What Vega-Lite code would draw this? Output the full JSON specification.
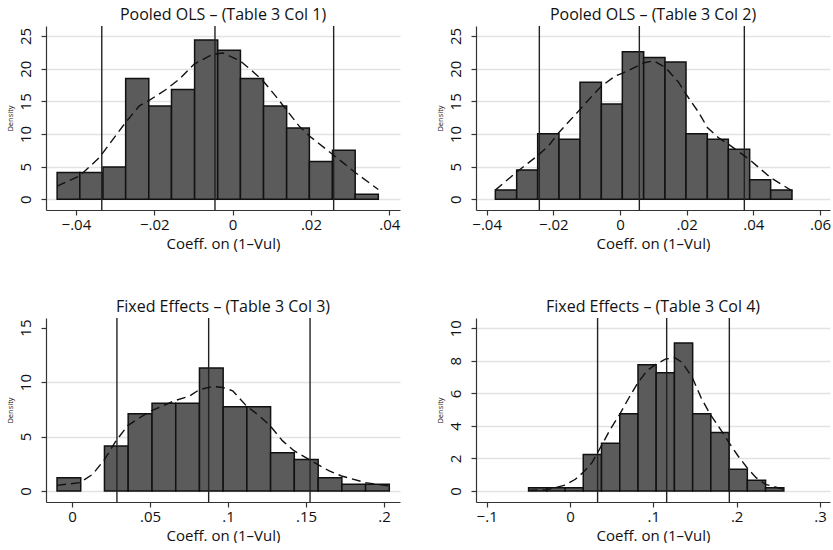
{
  "$schema": "https://vega.github.io/schema/vega-lite/v6.json",
  "background": "white",
  "padding": {"left": 5, "top": 7, "right": 0, "bottom": 0},
  "config": {
    "font": "Open Sans",
    "view": {"stroke": null},
    "axis": {
      "domainColor": "#333333",
      "tickColor": "#333333",
      "domainWidth": 1.2,
      "tickWidth": 1.2,
      "tickSize": 5,
      "labelColor": "#111111",
      "labelFontSize": 15,
      "titleFontSize": 15,
      "titleFontWeight": "normal",
      "titleColor": "#111111",
      "gridColor": "#e3e3e3",
      "gridWidth": 1.4,
      "labelOverlap": false,
      "tickCount": 20
    },
    "title": {"fontSize": 16, "fontWeight": "normal", "color": "#111111", "offset": 2}
  },
  "datasets": {
    "b1": [
      {"lo": -0.0448, "hi": -0.0390, "density": 4.1},
      {"lo": -0.0390, "hi": -0.0331, "density": 4.1},
      {"lo": -0.0331, "hi": -0.0273, "density": 4.95},
      {"lo": -0.0273, "hi": -0.0214, "density": 18.5},
      {"lo": -0.0214, "hi": -0.0156, "density": 14.3},
      {"lo": -0.0156, "hi": -0.0097, "density": 16.8},
      {"lo": -0.0097, "hi": -0.0038, "density": 24.4},
      {"lo": -0.0038, "hi": 0.0020, "density": 22.8},
      {"lo": 0.0020, "hi": 0.0079, "density": 18.5},
      {"lo": 0.0079, "hi": 0.0138, "density": 14.3},
      {"lo": 0.0138, "hi": 0.0196, "density": 10.9},
      {"lo": 0.0196, "hi": 0.0255, "density": 5.8},
      {"lo": 0.0255, "hi": 0.0313, "density": 7.5},
      {"lo": 0.0313, "hi": 0.0372, "density": 0.77}
    ],
    "d1": [
      {"x": -0.0448, "y": 2.0}, {"x": -0.0390, "y": 3.6}, {"x": -0.0340, "y": 6.4},
      {"x": -0.0274, "y": 11.7}, {"x": -0.0238, "y": 14.3}, {"x": -0.0214, "y": 15.1},
      {"x": -0.0170, "y": 16.8}, {"x": -0.0136, "y": 18.4}, {"x": -0.0098, "y": 20.7},
      {"x": -0.0051, "y": 22.2}, {"x": -0.0025, "y": 22.4}, {"x": 0.0019, "y": 21.2},
      {"x": 0.0051, "y": 19.6}, {"x": 0.0078, "y": 18.1}, {"x": 0.0110, "y": 15.8},
      {"x": 0.0136, "y": 13.8}, {"x": 0.0170, "y": 11.2}, {"x": 0.0196, "y": 9.7},
      {"x": 0.0238, "y": 7.7}, {"x": 0.0255, "y": 6.9}, {"x": 0.0313, "y": 4.1},
      {"x": 0.0372, "y": 1.5}
    ],
    "r1": [{"x": -0.0334}, {"x": -0.0045}, {"x": 0.0258}],
    "b2": [
      {"lo": -0.0374, "hi": -0.0310, "density": 1.43},
      {"lo": -0.0310, "hi": -0.0247, "density": 4.5},
      {"lo": -0.0247, "hi": -0.0183, "density": 10.05},
      {"lo": -0.0183, "hi": -0.0120, "density": 9.2},
      {"lo": -0.0120, "hi": -0.0056, "density": 17.9},
      {"lo": -0.0056, "hi": 0.0007, "density": 14.6},
      {"lo": 0.0007, "hi": 0.0071, "density": 22.6},
      {"lo": 0.0071, "hi": 0.0135, "density": 21.7},
      {"lo": 0.0135, "hi": 0.0198, "density": 21.0},
      {"lo": 0.0198, "hi": 0.0262, "density": 10.05},
      {"lo": 0.0262, "hi": 0.0325, "density": 9.2},
      {"lo": 0.0325, "hi": 0.0389, "density": 7.65},
      {"lo": 0.0389, "hi": 0.0452, "density": 3.0},
      {"lo": 0.0452, "hi": 0.0516, "density": 1.43}
    ],
    "d2": [
      {"x": -0.0374, "y": 1.4}, {"x": -0.0312, "y": 4.1}, {"x": -0.0249, "y": 6.6},
      {"x": -0.0214, "y": 8.2}, {"x": -0.0184, "y": 10.2}, {"x": -0.0119, "y": 13.8},
      {"x": -0.0084, "y": 15.8}, {"x": -0.0056, "y": 17.3}, {"x": -0.0014, "y": 18.9},
      {"x": 0.0008, "y": 19.3}, {"x": 0.0072, "y": 20.9}, {"x": 0.0101, "y": 21.2},
      {"x": 0.0136, "y": 20.2}, {"x": 0.0176, "y": 17.9}, {"x": 0.0198, "y": 16.1},
      {"x": 0.0236, "y": 13.3}, {"x": 0.0262, "y": 11.0}, {"x": 0.0296, "y": 9.4},
      {"x": 0.0326, "y": 8.4}, {"x": 0.0388, "y": 6.1}, {"x": 0.0452, "y": 3.3},
      {"x": 0.0516, "y": 1.3}
    ],
    "r2": [{"x": -0.0242}, {"x": 0.0058}, {"x": 0.0373}],
    "b3": [
      {"lo": -0.0096, "hi": 0.0056, "density": 1.22},
      {"lo": 0.0208, "hi": 0.0360, "density": 4.13},
      {"lo": 0.0360, "hi": 0.0513, "density": 7.1},
      {"lo": 0.0513, "hi": 0.0665, "density": 8.05},
      {"lo": 0.0665, "hi": 0.0817, "density": 8.05},
      {"lo": 0.0817, "hi": 0.0969, "density": 11.3},
      {"lo": 0.0969, "hi": 0.1121, "density": 7.74},
      {"lo": 0.1121, "hi": 0.1273, "density": 7.74},
      {"lo": 0.1273, "hi": 0.1425, "density": 3.52},
      {"lo": 0.1425, "hi": 0.1578, "density": 2.9},
      {"lo": 0.1578, "hi": 0.1730, "density": 1.22},
      {"lo": 0.1730, "hi": 0.1882, "density": 0.61},
      {"lo": 0.1882, "hi": 0.2034, "density": 0.61}
    ],
    "d3": [
      {"x": -0.0096, "y": 0.52}, {"x": 0.0051, "y": 0.77}, {"x": 0.0132, "y": 1.53},
      {"x": 0.0209, "y": 2.9}, {"x": 0.0282, "y": 4.6}, {"x": 0.0357, "y": 6.0},
      {"x": 0.0431, "y": 6.7}, {"x": 0.0506, "y": 7.35}, {"x": 0.0660, "y": 8.3},
      {"x": 0.0752, "y": 8.7}, {"x": 0.0816, "y": 9.3}, {"x": 0.0902, "y": 9.6},
      {"x": 0.0966, "y": 9.5}, {"x": 0.1030, "y": 9.2}, {"x": 0.1119, "y": 7.8},
      {"x": 0.1201, "y": 6.9}, {"x": 0.1269, "y": 6.0}, {"x": 0.1350, "y": 4.6},
      {"x": 0.1423, "y": 3.7}, {"x": 0.1574, "y": 2.45}, {"x": 0.1649, "y": 1.84},
      {"x": 0.1728, "y": 1.38}, {"x": 0.1880, "y": 0.77}, {"x": 0.2034, "y": 0.46}
    ],
    "r3": [{"x": 0.0288}, {"x": 0.0876}, {"x": 0.1526}],
    "b4": [
      {"lo": -0.0497, "hi": -0.0278, "density": 0.2},
      {"lo": -0.0278, "hi": -0.0059, "density": 0.2},
      {"lo": -0.0059, "hi": 0.0159, "density": 0.2},
      {"lo": 0.0159, "hi": 0.0378, "density": 2.25},
      {"lo": 0.0378, "hi": 0.0597, "density": 2.93},
      {"lo": 0.0597, "hi": 0.0816, "density": 4.75},
      {"lo": 0.0816, "hi": 0.1034, "density": 7.75},
      {"lo": 0.1034, "hi": 0.1253, "density": 7.27},
      {"lo": 0.1253, "hi": 0.1472, "density": 9.1},
      {"lo": 0.1472, "hi": 0.1690, "density": 4.75},
      {"lo": 0.1690, "hi": 0.1909, "density": 3.6},
      {"lo": 0.1909, "hi": 0.2128, "density": 1.33},
      {"lo": 0.2128, "hi": 0.2347, "density": 0.66},
      {"lo": 0.2347, "hi": 0.2566, "density": 0.2}
    ],
    "d4": [
      {"x": -0.0497, "y": 0.04}, {"x": -0.0276, "y": 0.08}, {"x": -0.0056, "y": 0.37},
      {"x": 0.0064, "y": 0.72}, {"x": 0.0156, "y": 1.13}, {"x": 0.0264, "y": 1.74},
      {"x": 0.0376, "y": 2.77}, {"x": 0.0484, "y": 3.8}, {"x": 0.0595, "y": 4.7},
      {"x": 0.0704, "y": 5.7}, {"x": 0.0816, "y": 6.66}, {"x": 0.0924, "y": 7.4},
      {"x": 0.1036, "y": 7.8}, {"x": 0.1144, "y": 8.1}, {"x": 0.1256, "y": 8.2},
      {"x": 0.1345, "y": 7.9}, {"x": 0.1465, "y": 7.0}, {"x": 0.1576, "y": 5.7},
      {"x": 0.1684, "y": 4.7}, {"x": 0.1792, "y": 3.9}, {"x": 0.1904, "y": 3.0},
      {"x": 0.2017, "y": 2.15}, {"x": 0.2125, "y": 1.43}, {"x": 0.2233, "y": 0.82},
      {"x": 0.2345, "y": 0.41}, {"x": 0.2564, "y": 0.1}
    ],
    "r4": [{"x": 0.0331}, {"x": 0.1160}, {"x": 0.1912}]
  },
  "columns": 2,
  "bounds": "flush",
  "spacing": {"row": 108, "column": 76},
  "concat": [
    {
      "width": 354, "height": 184,
      "title": "Pooled OLS – (Table 3 Col 1)",
      "layer": [
        {
          "data": {"name": "b1"},
          "mark": {"type": "bar", "fill": "#5b5b5b", "stroke": "#111111", "strokeWidth": 1.5},
          "encoding": {
            "x": {"field": "lo", "type": "quantitative", "scale": {"domain": [-0.04764, 0.04274], "nice": false, "zero": false},
                  "axis": {"title": "Coeff. on (1–Vul)", "grid": false, "values": [-0.04, -0.02, 0, 0.02, 0.04], "tickCount": 20, "labelExpr": "replace(format(datum.value, '.2~f'), '0.', '.')", "labelFlush": false, "labelOverlap": false}},
            "x2": {"field": "hi"},
            "y": {"field": "density", "type": "quantitative", "scale": {"domain": [-1.64, 26.53], "nice": false, "zero": false},
                  "axis": {"title": "Density", "titleFontSize": 7.5, "values": [0, 5, 10, 15, 20, 25], "tickCount": 20, "format": "d", "labelAngle": 270, "labelAlign": "center", "labelBaseline": "bottom", "labelPadding": 8, "labelOverlap": false, "labelBound": false}},
            "y2": {"datum": 0}
          }
        },
        {
          "data": {"name": "r1"},
          "mark": {"type": "rule", "stroke": "#222222", "strokeWidth": 1.4},
          "encoding": {"x": {"field": "x", "type": "quantitative"}}
        },
        {
          "data": {"name": "d1"},
          "mark": {"type": "line", "stroke": "#111111", "strokeWidth": 1.4, "strokeDash": [9, 5]},
          "encoding": {"x": {"field": "x", "type": "quantitative"}, "y": {"field": "y", "type": "quantitative"}}
        }
      ]
    },
    {
      "width": 354, "height": 184,
      "title": "Pooled OLS – (Table 3 Col 2)",
      "layer": [
        {
          "data": {"name": "b2"},
          "mark": {"type": "bar", "fill": "#5b5b5b", "stroke": "#111111", "strokeWidth": 1.5},
          "encoding": {
            "x": {"field": "lo", "type": "quantitative", "scale": {"domain": [-0.0432, 0.0630], "nice": false, "zero": false},
                  "axis": {"title": "Coeff. on (1–Vul)", "grid": false, "values": [-0.04, -0.02, 0, 0.02, 0.04, 0.06], "tickCount": 20, "labelExpr": "replace(format(datum.value, '.2~f'), '0.', '.')", "labelFlush": false, "labelOverlap": false}},
            "x2": {"field": "hi"},
            "y": {"field": "density", "type": "quantitative", "scale": {"domain": [-1.64, 26.53], "nice": false, "zero": false},
                  "axis": {"title": "Density", "titleFontSize": 7.5, "values": [0, 5, 10, 15, 20, 25], "tickCount": 20, "format": "d", "labelAngle": 270, "labelAlign": "center", "labelBaseline": "bottom", "labelPadding": 8, "labelOverlap": false, "labelBound": false}},
            "y2": {"datum": 0}
          }
        },
        {
          "data": {"name": "r2"},
          "mark": {"type": "rule", "stroke": "#222222", "strokeWidth": 1.4},
          "encoding": {"x": {"field": "x", "type": "quantitative"}}
        },
        {
          "data": {"name": "d2"},
          "mark": {"type": "line", "stroke": "#111111", "strokeWidth": 1.4, "strokeDash": [9, 5]},
          "encoding": {"x": {"field": "x", "type": "quantitative"}, "y": {"field": "y", "type": "quantitative"}}
        }
      ]
    },
    {
      "width": 354, "height": 184,
      "title": "Fixed Effects – (Table 3 Col 3)",
      "layer": [
        {
          "data": {"name": "b3"},
          "mark": {"type": "bar", "fill": "#5b5b5b", "stroke": "#111111", "strokeWidth": 1.5},
          "encoding": {
            "x": {"field": "lo", "type": "quantitative", "scale": {"domain": [-0.01667, 0.21026], "nice": false, "zero": false},
                  "axis": {"title": "Coeff. on (1–Vul)", "grid": false, "values": [0, 0.05, 0.1, 0.15, 0.2], "tickCount": 20, "labelExpr": "replace(format(datum.value, '.2~f'), '0.', '.')", "labelFlush": false, "labelOverlap": false}},
            "x2": {"field": "hi"},
            "y": {"field": "density", "type": "quantitative", "scale": {"domain": [-1.01, 15.88], "nice": false, "zero": false},
                  "axis": {"title": "Density", "titleFontSize": 7.5, "values": [0, 5, 10, 15], "tickCount": 20, "format": "d", "labelAngle": 270, "labelAlign": "center", "labelBaseline": "bottom", "labelPadding": 8, "labelOverlap": false, "labelBound": false,
                           "gridColor": {"condition": {"test": "datum.value == 15", "value": "#ffffff"}, "value": "#e3e3e3"}}},
            "y2": {"datum": 0}
          }
        },
        {
          "data": {"name": "r3"},
          "mark": {"type": "rule", "stroke": "#222222", "strokeWidth": 1.4},
          "encoding": {"x": {"field": "x", "type": "quantitative"}}
        },
        {
          "data": {"name": "d3"},
          "mark": {"type": "line", "stroke": "#111111", "strokeWidth": 1.4, "strokeDash": [9, 5]},
          "encoding": {"x": {"field": "x", "type": "quantitative"}, "y": {"field": "y", "type": "quantitative"}}
        }
      ]
    },
    {
      "width": 354, "height": 184,
      "title": "Fixed Effects – (Table 3 Col 4)",
      "layer": [
        {
          "data": {"name": "b4"},
          "mark": {"type": "bar", "fill": "#5b5b5b", "stroke": "#111111", "strokeWidth": 1.5},
          "encoding": {
            "x": {"field": "lo", "type": "quantitative", "scale": {"domain": [-0.1128, 0.3120], "nice": false, "zero": false},
                  "axis": {"title": "Coeff. on (1–Vul)", "grid": false, "values": [-0.1, 0, 0.1, 0.2, 0.3], "tickCount": 20, "labelExpr": "replace(format(datum.value, '.2~f'), '0.', '.')", "labelFlush": false, "labelOverlap": false}},
            "x2": {"field": "hi"},
            "y": {"field": "density", "type": "quantitative", "scale": {"domain": [-0.676, 10.63], "nice": false, "zero": false},
                  "axis": {"title": "Density", "titleFontSize": 7.5, "values": [0, 2, 4, 6, 8, 10], "tickCount": 20, "format": "d", "labelAngle": 270, "labelAlign": "center", "labelBaseline": "bottom", "labelPadding": 8, "labelOverlap": false, "labelBound": false}},
            "y2": {"datum": 0}
          }
        },
        {
          "data": {"name": "r4"},
          "mark": {"type": "rule", "stroke": "#222222", "strokeWidth": 1.4},
          "encoding": {"x": {"field": "x", "type": "quantitative"}}
        },
        {
          "data": {"name": "d4"},
          "mark": {"type": "line", "stroke": "#111111", "strokeWidth": 1.4, "strokeDash": [9, 5]},
          "encoding": {"x": {"field": "x", "type": "quantitative"}, "y": {"field": "y", "type": "quantitative"}}
        }
      ]
    }
  ]
}
